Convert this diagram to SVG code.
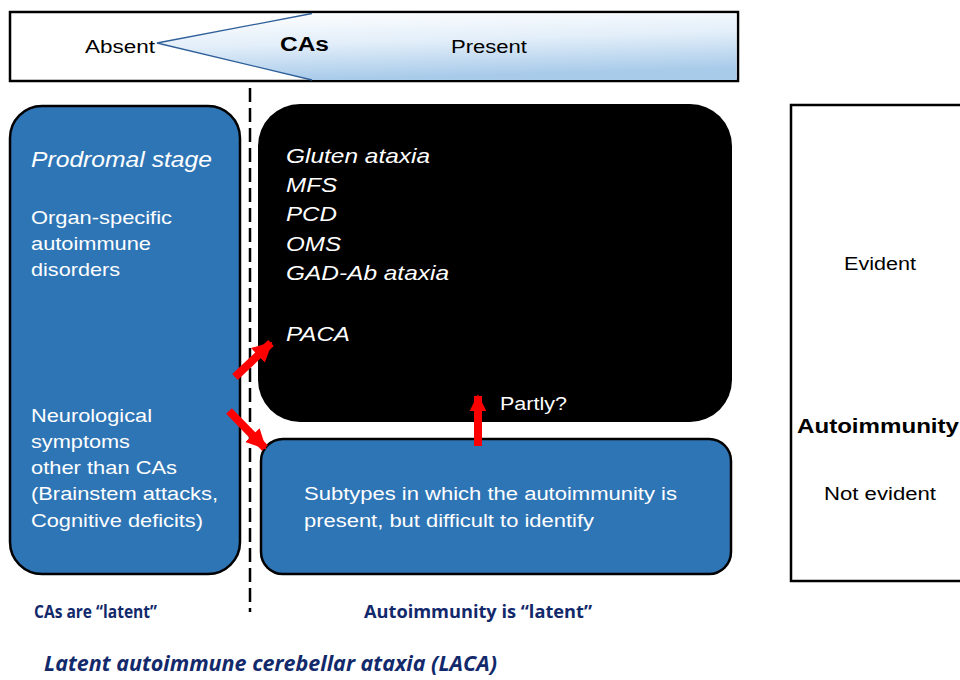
<svg xmlns="http://www.w3.org/2000/svg" width="960" height="680" viewBox="0 0 960 680">
<defs>
<linearGradient id="wedge" x1="0" y1="0" x2="0.25" y2="1">
<stop offset="0" stop-color="#ffffff"/>
<stop offset="0.5" stop-color="#e2eef9"/>
<stop offset="1" stop-color="#a9cbea"/>
</linearGradient>
<marker id="ah" viewBox="0 0 10 10" refX="9" refY="5" markerUnits="userSpaceOnUse" markerWidth="20" markerHeight="22" orient="auto">
<path d="M0,0 L10,5 L0,10 Z" fill="#ff0000"/>
</marker>
<marker id="ah2" viewBox="0 0 10 10" refX="9" refY="5" markerUnits="userSpaceOnUse" markerWidth="17" markerHeight="24" orient="auto">
<path d="M0,0 L10,5 L0,10 Z" fill="#ff0000"/>
</marker>
</defs>
<style>
text{font-family:"Liberation Sans",Arial,sans-serif;}
.w{fill:#ffffff;}
.k{fill:#000000;}
.it{font-style:italic;}
.b{font-weight:bold;}
.s18{font-size:18px;}
.s19{font-size:19px;}
.s21{font-size:21px;}
.nv{font-family:"Open Sans","Noto Sans",sans-serif;font-weight:bold;fill:#12296b;}
.blue{fill:#2e75b6;stroke:#000;stroke-width:2.5;}
.red{stroke:#ff0000;stroke-width:8;fill:none;}
</style>
<rect width="960" height="680" fill="#ffffff"/>

<g id="cas-scale">
<rect x="10" y="12" width="728" height="69" fill="#ffffff" stroke="#000" stroke-width="2.5"/>
<path d="M157,43 L312,13.5 L736.5,13.5 L736.5,80 L312,80 Z" fill="url(#wedge)"/>
<path d="M312,13.5 L157,43 L312,80" fill="none" stroke="#2e5f99" stroke-width="1.3"/>
<text class="k s18" x="85" y="53" textLength="70" lengthAdjust="spacingAndGlyphs">Absent</text>
<text class="k b" x="280" y="51" font-size="20" textLength="49" lengthAdjust="spacingAndGlyphs">CAs</text>
<text class="k s18" x="451" y="53" textLength="76" lengthAdjust="spacingAndGlyphs">Present</text>
</g>

<line x1="250" y1="88" x2="250" y2="612" stroke="#000" stroke-width="2.5" stroke-dasharray="14,6"/>

<g id="prodromal">
<rect class="blue" x="10" y="106" width="230" height="468" rx="32"/>
<text class="w it" x="31" y="167" font-size="22" textLength="181" lengthAdjust="spacingAndGlyphs">Prodromal stage</text>
<text class="w s19" x="31" y="224" textLength="141" lengthAdjust="spacingAndGlyphs">Organ-specific</text>
<text class="w s19" x="31" y="250" textLength="120" lengthAdjust="spacingAndGlyphs">autoimmune</text>
<text class="w s19" x="31" y="276" textLength="89" lengthAdjust="spacingAndGlyphs">disorders</text>
<text class="w s19" x="31" y="422" textLength="121" lengthAdjust="spacingAndGlyphs">Neurological</text>
<text class="w s19" x="31" y="448" textLength="99" lengthAdjust="spacingAndGlyphs">symptoms</text>
<text class="w s19" x="31" y="474" textLength="146" lengthAdjust="spacingAndGlyphs">other than CAs</text>
<text class="w s19" x="31" y="500" textLength="187" lengthAdjust="spacingAndGlyphs">(Brainstem attacks,</text>
<text class="w s19" x="31" y="527" textLength="172" lengthAdjust="spacingAndGlyphs">Cognitive deficits)</text>
</g>

<g id="evident-ataxias">
<rect x="258" y="104" width="474" height="318" rx="42" fill="#000000"/>
<text class="w it s21" x="286" y="163" textLength="144" lengthAdjust="spacingAndGlyphs">Gluten ataxia</text>
<text class="w it s21" x="286" y="192" textLength="51" lengthAdjust="spacingAndGlyphs">MFS</text>
<text class="w it s21" x="286" y="221" textLength="51" lengthAdjust="spacingAndGlyphs">PCD</text>
<text class="w it s21" x="286" y="251" textLength="55" lengthAdjust="spacingAndGlyphs">OMS</text>
<text class="w it s21" x="286" y="280" textLength="163" lengthAdjust="spacingAndGlyphs">GAD-Ab ataxia</text>
<text class="w it s21" x="286" y="341" textLength="64" lengthAdjust="spacingAndGlyphs">PACA</text>
<text class="w s18" x="500" y="410" textLength="67" lengthAdjust="spacingAndGlyphs">Partly?</text>
</g>

<g id="latent-subtypes">
<rect class="blue" x="261" y="439" width="470" height="135" rx="22"/>
<text class="w s18" x="304" y="500" textLength="373" lengthAdjust="spacingAndGlyphs">Subtypes in which the autoimmunity is</text>
<text class="w s18" x="304" y="527" textLength="290" lengthAdjust="spacingAndGlyphs">present, but difficult to identify</text>
</g>

<g id="autoimmunity-axis">
<rect x="791" y="105" width="180" height="476" fill="#ffffff" stroke="#000" stroke-width="2.5"/>
<text class="k s18" x="844" y="270" textLength="72" lengthAdjust="spacingAndGlyphs">Evident</text>
<text class="k b" x="797" y="433" font-size="20" textLength="162" lengthAdjust="spacingAndGlyphs">Autoimmunity</text>
<text class="k s18" x="824" y="500" textLength="112" lengthAdjust="spacingAndGlyphs">Not evident</text>
</g>

<g id="connectors">
<line class="red" x1="235" y1="377" x2="271" y2="343" marker-end="url(#ah)"/>
<line class="red" x1="229" y1="411" x2="265" y2="448" marker-end="url(#ah)"/>
<line class="red" x1="478" y1="446" x2="478" y2="396" marker-end="url(#ah2)"/>
</g>

<g id="labels">
<text class="nv" x="34" y="618" font-size="17.5" textLength="123" lengthAdjust="spacingAndGlyphs">CAs are “latent”</text>
<text class="nv" x="364" y="618" font-size="17.5" textLength="228" lengthAdjust="spacingAndGlyphs">Autoimmunity is “latent”</text>
<text class="nv" x="44" y="671" font-size="20.5" font-style="italic" textLength="453" lengthAdjust="spacingAndGlyphs">Latent autoimmune cerebellar ataxia (LACA)</text>
</g>
</svg>
